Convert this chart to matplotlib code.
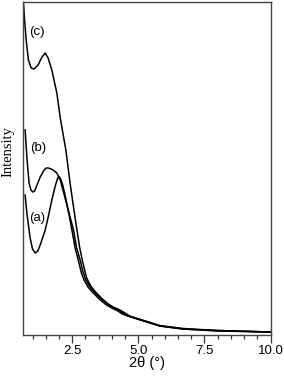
import matplotlib
matplotlib.use("Agg")
import matplotlib.pyplot as plt
from matplotlib.ticker import MultipleLocator

# two-theta (degrees) and intensity (arbitrary units)
x_a = [0.72, 0.795, 0.91, 1.00, 1.10, 1.20, 1.29, 1.38, 1.48, 1.61, 1.73, 1.86, 1.94, 1.98, 2.02, 2.08, 2.15, 2.23, 2.36, 2.49,
       2.62, 2.73, 2.85, 2.95, 3.10, 3.26, 3.56, 3.80, 4.00, 4.20, 4.40, 4.60, 5.08, 5.80, 6.67, 8.00, 10.0]
y_a = [140, 120, 97, 86, 82, 84, 90, 97, 105, 120, 135, 149, 156, 158, 158, 155, 149, 140, 123, 105,
       86, 75, 62, 55, 48, 43, 35, 30, 27, 24.5, 21, 19, 15, 9, 6, 4.5, 3]

x_b = [0.72, 0.795, 0.87, 0.94, 1.01, 1.08, 1.14, 1.29, 1.44, 1.52, 1.60, 1.70, 1.78, 1.92, 2.05, 2.20, 2.38, 2.55,
       2.66, 2.80, 2.90, 3.00, 3.15, 3.30, 3.60, 3.85, 4.05, 4.25, 4.45, 4.65, 5.10, 5.80, 6.70, 8.00, 10.0]
y_b = [205, 175, 152, 145, 143, 144, 148, 158, 165, 167, 167, 166, 165, 162, 155, 140, 122, 105,
       88, 75, 64, 56, 49, 44, 36, 31, 28, 25.5, 21, 19, 15, 9.5, 6.5, 4.5, 3]

x_c = [0.655, 0.70, 0.76, 0.845, 0.95, 1.06, 1.21, 1.36, 1.48, 1.59, 1.73, 1.92, 2.05, 2.26, 2.42, 2.55, 2.68,
       2.78, 2.88, 2.97, 3.05, 3.20, 3.35, 3.60, 3.90, 4.10, 4.30, 4.50, 4.70, 5.10, 5.85, 6.70, 8.00, 10.0]
y_c = [333, 315, 295, 275, 267, 266, 270, 278, 282, 277, 265, 242, 217, 185, 152, 128, 105,
       88, 75, 65, 57, 49, 44, 37, 30, 26.5, 25, 22, 18.5, 15.5, 9, 6, 4, 3]

labels = ["(a)", "(b)", "(c)"]
label_pos_x = [1.16, 1.23, 1.17]
label_pos_y = [117, 187, 303]

xlim = (0.64, 10.0)
ylim = (0, 333)

fig = plt.figure(figsize=(2.84, 3.80), dpi=100)
ax = fig.add_axes([0.081, 0.1184, 0.8715, 0.8763])

for xs, ys in [(x_a, y_a), (x_b, y_b), (x_c, y_c)]:
    ax.plot(xs, ys, color="black", lw=1.1, solid_joinstyle="round")

for t, lx, ly in zip(labels, label_pos_x, label_pos_y):
    ax.text(lx, ly, t, ha="center", va="center", fontsize=9.5,
            family="Liberation Sans", color="black")

ax.set_xlim(*xlim)
ax.set_ylim(*ylim)
ax.xaxis.set_major_locator(MultipleLocator(2.5))
ax.xaxis.set_minor_locator(MultipleLocator(0.5))
ax.xaxis.set_major_formatter(plt.FuncFormatter(lambda v, p: f"{v:.1f}"))
ax.set_yticks([])
ax.tick_params(axis="x", which="major", direction="out", length=5.5, width=0.9,
               colors="#333333", labelcolor="black", labelsize=9.5, pad=2)
ax.tick_params(axis="x", which="minor", direction="out", length=3, width=0.9, colors="#333333")
for lab in ax.get_xticklabels():
    lab.set_family("Liberation Sans")
for sp in ax.spines.values():
    sp.set_color("#444444")
    sp.set_linewidth(1.0)

ax.set_xlabel("2θ (°)", fontsize=10.5, family="Liberation Sans", labelpad=-1)
fig.text(0.029, 0.60, "Intensity", rotation=90, ha="center", va="center",
         fontsize=10.5, family="Liberation Serif")

fig.savefig("out.png", dpi=100)
